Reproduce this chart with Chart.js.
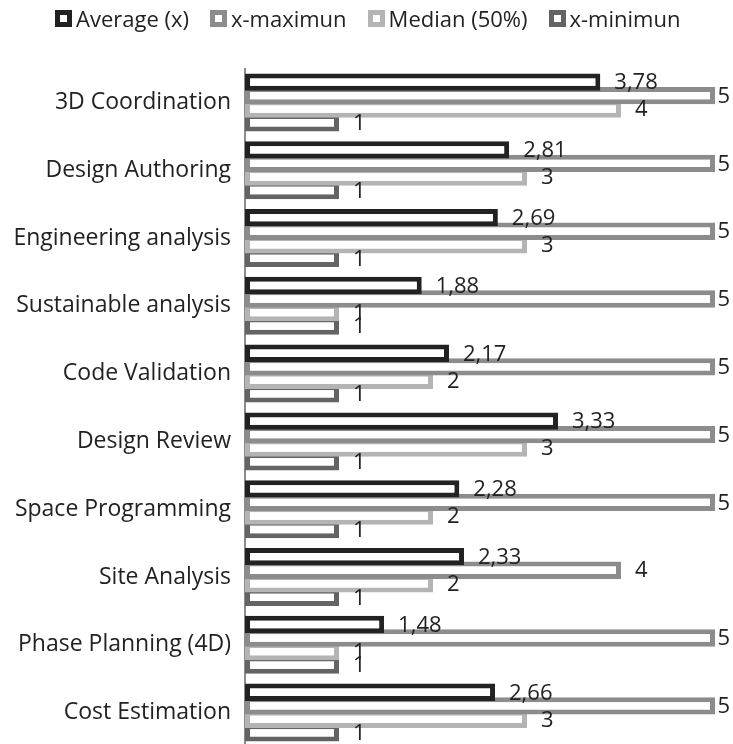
<!DOCTYPE html>
<html>
<head>
<meta charset="utf-8">
<script src="https://cdn.jsdelivr.net/npm/chart.js@4"></script>
<style>
html,body{margin:0;padding:0;background:#fff;overflow:hidden;}
#wrap{width:733px;height:748px;position:relative;}
#legend{position:absolute;left:55px;top:0;height:36px;display:flex;align-items:center;font-family:'Open Sans',sans-serif;font-size:22px;color:#222;white-space:nowrap;}
.item{display:flex;align-items:center;margin-right:21px;}
.box{width:17px;height:17px;box-sizing:border-box;border:5.5px solid #000;background:#fff;margin-right:4px;}
</style>
</head>
<body>
<div id="wrap">
<div id="legend"></div>
<canvas id="c" width="733" height="748"></canvas>
</div>
<script>
const categories = ["3D Coordination","Design Authoring","Engineering analysis","Sustainable analysis","Code Validation","Design Review","Space Programming","Site Analysis","Phase Planning (4D)","Cost Estimation"];
const seriesNames = ["Average (x)","x-maximun","Median (50%)","x-minimun"];
const averageValues = [3.78,2.81,2.69,1.88,2.17,3.33,2.28,2.33,1.48,2.66];
const maximumValues = [5,5,5,5,5,5,5,4,5,5];
const medianValues = [4,3,3,1,2,3,2,2,1,3];
const minimumValues = [1,1,1,1,1,1,1,1,1,1];
const seriesColors = ["#222222","#8c8c8c","#b4b4b4","#646464"];
const FONT = "'Open Sans', sans-serif";

// HTML legend
const legendEl = document.getElementById('legend');
seriesNames.forEach((name, i) => {
  const it = document.createElement('div'); it.className = 'item';
  const b = document.createElement('div'); b.className = 'box'; b.style.borderColor = seriesColors[i];
  const t = document.createElement('span'); t.textContent = name;
  it.appendChild(b); it.appendChild(t); legendEl.appendChild(it);
});

const valueLabels = {
  id: 'valueLabels',
  afterDatasetsDraw(chart) {
    const ctx = chart.ctx;
    ctx.save();
    ctx.font = "22px " + FONT;
    ctx.fillStyle = "#222";
    ctx.textAlign = "left";
    ctx.textBaseline = "middle";
    chart.data.datasets.forEach((ds, i) => {
      const meta = chart.getDatasetMeta(i);
      meta.data.forEach((bar, j) => {
        const v = ds.data[j];
        const t = (Number.isInteger(v) ? String(v) : v.toFixed(2)).replace('.', ',');
        const w = ctx.measureText(t).width;
        const x = Math.min(bar.x + 14, chart.width - w - 3);
        ctx.fillText(t, x, bar.y + 1);
      });
    });
    ctx.restore();
  }
};

const allValues = [averageValues, maximumValues, medianValues, minimumValues];
new Chart(document.getElementById('c'), {
  type: 'bar',
  data: {
    labels: categories,
    datasets: allValues.map((vals, i) => ({
      label: seriesNames[i],
      data: vals,
      backgroundColor: "#ffffff",
      borderColor: seriesColors[i],
      borderWidth: 5,
      borderSkipped: false,
      categoryPercentage: 0.8,
      barPercentage: 1.28
    }))
  },
  options: {
    indexAxis: 'y',
    responsive: false,
    animation: false,
    layout: { padding: { left: 0, right: 18, top: 68.5, bottom: 1.5 } },
    plugins: {
      tooltip: { enabled: false },
      legend: { display: false }
    },
    scales: {
      x: {
        min: 0, max: 5,
        display: false,
        grid: { display: false }
      },
      y: {
        afterFit(scale) { scale.width = 245; scale.paddingTop = 0; scale.paddingBottom = 0; },
        grid: { display: false, drawTicks: false },
        border: { display: true, color: "#8c8c8c", width: 2 },
        ticks: { font: { size: 23, family: FONT }, color: "#222", padding: 14 }
      }
    }
  },
  plugins: [valueLabels]
});
</script>
</body>
</html>
